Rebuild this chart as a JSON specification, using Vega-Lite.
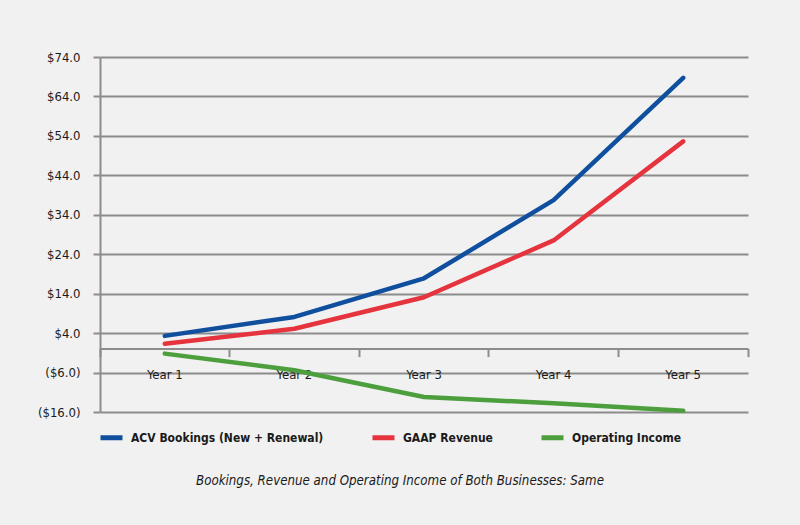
{
  "$schema": "https://vega.github.io/schema/vega-lite/v6.json",
  "autosize": "none",
  "width": 648,
  "height": 355,
  "padding": {"left": 100, "top": 57, "right": 52, "bottom": 113},
  "background": "#f1f1f1",
  "config": {
    "view": {"stroke": null},
    "font": "DejaVu Sans Condensed, Liberation Sans, sans-serif"
  },
  "title": {
    "text": "Bookings, Revenue and Operating Income of Both Businesses: Same",
    "orient": "bottom",
    "anchor": "middle",
    "frame": "group",
    "dx": -24,
    "offset": 27,
    "font": "DejaVu Sans Condensed, Liberation Sans, sans-serif",
    "fontSize": 13.2,
    "fontStyle": "italic",
    "fontWeight": "normal",
    "color": "#1a1a1a"
  },
  "data": {
    "values": [
      {"year": "Year 1", "series": "ACV Bookings (New + Renewal)", "value": 3.3},
      {"year": "Year 2", "series": "ACV Bookings (New + Renewal)", "value": 8.1},
      {"year": "Year 3", "series": "ACV Bookings (New + Renewal)", "value": 17.9},
      {"year": "Year 4", "series": "ACV Bookings (New + Renewal)", "value": 37.7},
      {"year": "Year 5", "series": "ACV Bookings (New + Renewal)", "value": 68.7},
      {"year": "Year 1", "series": "GAAP Revenue", "value": 1.3},
      {"year": "Year 2", "series": "GAAP Revenue", "value": 5.1},
      {"year": "Year 3", "series": "GAAP Revenue", "value": 13.1},
      {"year": "Year 4", "series": "GAAP Revenue", "value": 27.5},
      {"year": "Year 5", "series": "GAAP Revenue", "value": 52.6},
      {"year": "Year 1", "series": "Operating Income", "value": -1.2},
      {"year": "Year 2", "series": "Operating Income", "value": -5.4},
      {"year": "Year 3", "series": "Operating Income", "value": -12.2},
      {"year": "Year 4", "series": "Operating Income", "value": -13.8},
      {"year": "Year 5", "series": "Operating Income", "value": -15.7}
    ]
  },
  "mark": {"type": "line", "strokeWidth": 4.5, "strokeCap": "round", "strokeJoin": "round"},
  "encoding": {
    "x": {
      "field": "year",
      "type": "nominal",
      "bandPosition": 0.5,
      "scale": {"type": "band", "paddingInner": 0, "paddingOuter": 0},
      "axis": {
        "title": null,
        "labelAngle": 0,
        "orient": "bottom",
        "offset": -63.4,
        "bandPosition": 1,
        "tickExtra": true,
        "domainColor": "#8c8c8c",
        "domainWidth": 2,
        "tickColor": "#8c8c8c",
        "tickWidth": 2,
        "tickSize": 8,
        "labelPadding": 12,
        "labelFontSize": 13,
        "labelColor": "#1a1a1a",
        "grid": false
      }
    },
    "y": {
      "field": "value",
      "type": "quantitative",
      "scale": {"domain": [-16, 74], "nice": false, "zero": false},
      "axis": {
        "title": null,
        "values": [-16, -6, 4, 14, 24, 34, 44, 54, 64, 74],
        "labelExpr": "datum.value < 0 ? '($' + format(-datum.value, '.1f') + ')' : '$' + format(datum.value, '.1f')",
        "domainColor": "#8c8c8c",
        "domainWidth": 2,
        "tickColor": "#8c8c8c",
        "tickWidth": 2,
        "tickSize": 7,
        "labelPadding": 13,
        "labelFontSize": 13,
        "labelColor": "#1a1a1a",
        "grid": true,
        "gridColor": "#8c8c8c",
        "gridWidth": 2
      }
    },
    "color": {
      "field": "series",
      "type": "nominal",
      "scale": {
        "domain": ["ACV Bookings (New + Renewal)", "GAAP Revenue", "Operating Income"],
        "range": ["#0f4f9e", "#e5343e", "#4c9f3c"]
      },
      "legend": {
        "title": null,
        "orient": "none",
        "direction": "horizontal",
        "legendX": -2,
        "legendY": 367,
        "padding": 0,
        "symbolType": "stroke",
        "symbolSize": 484,
        "symbolStrokeWidth": 5,
        "labelOffset": 6,
        "columnPadding": 38,
        "labelFontSize": 12,
        "labelFontWeight": "bold",
        "labelColor": "#1a1a1a",
        "labelLimit": 400
      }
    }
  }
}
